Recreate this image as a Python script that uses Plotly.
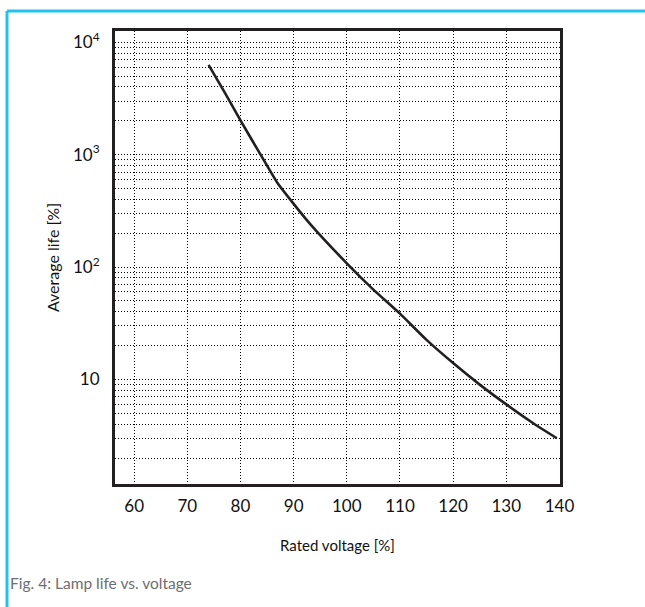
import plotly.graph_objects as go

# Data
voltage = [74, 77, 80, 84, 87, 90, 93, 100, 105, 110, 115, 120, 125, 130, 135, 139.5]
life = [6300, 3600, 2020, 960, 556, 365, 245, 108, 63, 38.5, 22.5, 14, 9, 6, 4.1, 3.0]

x_ticks = [60, 70, 80, 90, 100, 110, 120, 130, 140]
y_major = [10, 100, 1000, 10000]
y_major_text = ["10", "10<sup>2</sup>", "10<sup>3</sup>", "10<sup>4</sup>"]

x_title = "Rated voltage [%]"
y_title = "Average life [%]"
caption = "Fig. 4: Lamp life vs. voltage"

FONT = "Lato, 'Open Sans', sans-serif"
INK = "#231f20"

# log grid: 2..10 multiples of each decade
y_tickvals, y_ticktext = [], []
for dec in [1, 10, 100, 1000]:
    for m in range(2, 11):
        v = dec * m
        y_tickvals.append(v)
        y_ticktext.append(y_major_text[y_major.index(v)] if v in y_major else "")

fig = go.Figure()
fig.add_trace(go.Scatter(x=voltage, y=life, mode="lines",
                         line=dict(color=INK, width=2.6, shape="spline", smoothing=0.6),
                         showlegend=False, hoverinfo="skip"))

fig.update_layout(
    width=645, height=607,
    margin=dict(l=115, r=85, t=31, b=123),
    paper_bgcolor="white", plot_bgcolor="white",
    font=dict(family=FONT, size=17, color=INK),
    showlegend=False,
)
GRID_DASH = "1px,2px"
fig.update_xaxes(
    range=[56.4, 140.1],
    tickvals=x_ticks, ticktext=[str(t) for t in x_ticks],
    tickfont=dict(color="#111111", size=17),
    showgrid=True, gridcolor="#000000", griddash=GRID_DASH, gridwidth=1,
    showline=True, mirror=True, linecolor=INK, linewidth=3,
    ticks="", zeroline=False, ticklabelstandoff=5,
    title=dict(text=x_title, font=dict(size=15, color="#111111"), standoff=26),
)
fig.update_yaxes(
    type="log", range=[0.07, 4.1],
    tickvals=y_tickvals, ticktext=y_ticktext,
    tickfont=dict(color="#111111", size=17),
    showgrid=True, gridcolor="#000000", griddash=GRID_DASH, gridwidth=1,
    showline=True, mirror=True, linecolor=INK, linewidth=3,
    ticks="", zeroline=False, ticklabelstandoff=9,
    title=dict(text=y_title, font=dict(size=16, color="#111111"), standoff=10),
)

# light blue frame (top and left edges)
pw, ph = 445.0, 453.0
def px(xp):
    return (xp - 115) / pw
def py(yp):
    return (484 - yp) / ph
fig.add_shape(type="line", xref="paper", yref="paper",
              x0=px(7), x1=px(650), y0=py(11), y1=py(11),
              line=dict(color="#22c3ee", width=3))
fig.add_shape(type="line", xref="paper", yref="paper",
              x0=px(7), x1=px(7), y0=py(11), y1=py(615),
              line=dict(color="#22c3ee", width=3))

fig.add_annotation(text=caption, xref="paper", yref="paper",
                   x=px(8), y=py(583), xanchor="left", yanchor="middle",
                   showarrow=False, font=dict(family=FONT, size=15.5, color="#6d6e71"))

fig.write_html("out.html", config={"displayModeBar": False},
               post_script="document.body.style.margin='0px';document.body.style.overflow='hidden';")
